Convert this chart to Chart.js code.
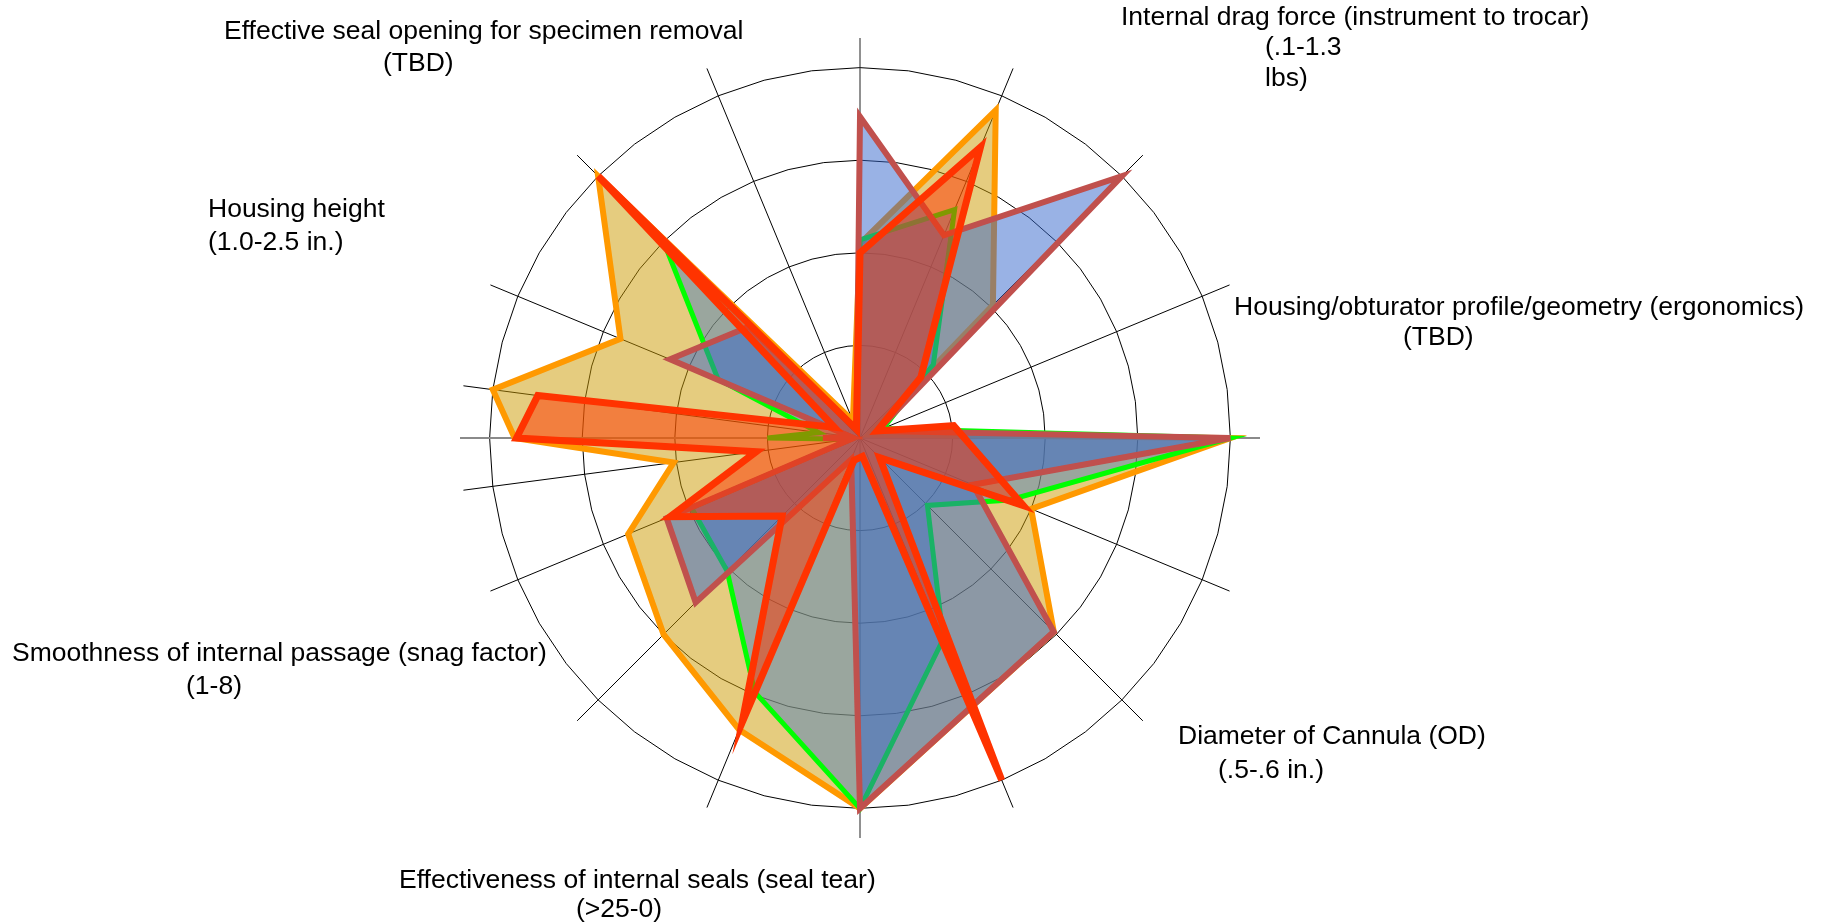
<!DOCTYPE html>
<html>
<head>
<meta charset="utf-8">
<title>Trocar design criteria</title>
<script src="https://cdn.jsdelivr.net/npm/chart.js@4.4.1/dist/chart.umd.min.js"></script>
<style>
  html, body { margin: 0; padding: 0; background: #fff; }
  #wrap { position: relative; width: 1823px; height: 923px; }
  .lbl {
    position: absolute;
    font-family: "Liberation Sans", Arial, sans-serif;
    font-size: 26.5px;
    line-height: 32px;
    color: #000;
    white-space: nowrap;
  }
</style>
</head>
<body>
<div id="wrap"><canvas id="radar"></canvas></div>
<script>
"use strict";

// 48 axes, one every 7.5 degrees; only some of them get a visible spoke
const AXIS_COUNT = 48;
const drawnSpokes = [0, 3, 6, 9, 12, 15, 18, 21, 24, 27, 30, 33, 35, 36, 37, 39, 42, 45];

const _ = null;

// scores per axis (null = no vertex on that axis)
const trocarOrange = [
  2.1, _, _, 3.83, _, _, 2.03, _, _, 0.1, _, _,
  4.0, _, _, 2.0, _, _, 2.96, _, _, _, _, _,
  4.0, _, _, 3.41, _, _, 3.0, _, _, 2.71, _, 2.03,
  3.73, 4.0, _, 2.8, _, _, 4.0, _, _, 0.2, _, _
];
const trocarGreen = [
  2.14, _, _, 2.67, _, _, 1.12, _, _, 0.27, _, _,
  4.0, _, _, 1.75, _, _, 1.03, _, _, 2.35, _, _,
  4.0, _, _, 2.97, _, _, 2.03, _, _, 1.97, _, 0.1,
  1.0, 0.45, _, 1.66, _, _, 3.0, _, _, 0.1, _, _
];
const trocarBlue = [
  3.47, _, _, 2.37, _, _, 4.0, _, _, 0.2, _, _,
  4.0, _, _, 1.32, _, _, 2.96, _, _, _, _, _,
  4.0, _, _, 0.25, _, _, 2.51, _, _, 2.26, _, 0.1,
  0.4, 0.1, _, 2.22, _, _, 1.7, _, _, 0.1, _, _
];
const trocarRed = [
  2.0, _, _, 3.4, _, _, 0.93, _, _, 0.2, _, 1.02,
  _, _, _, 1.91, _, _, 0.3, _, _, 4.0, _, 0.2,
  _, _, 0.25, 3.33, _, _, 1.19, _, _, 2.22, _, 1.13,
  3.71, 3.51, _, 0.3, _, _, 4.0, _, _, 0.1, _, _
];

const criteria = [
  ["Internal drag force (instrument to trocar)", "(.1-1.3", "lbs)"],
  ["Housing/obturator profile/geometry (ergonomics)", "(TBD)"],
  ["Diameter of Cannula (OD)", "(.5-.6 in.)"],
  ["Effectiveness of internal seals (seal tear)", "(>25-0)"],
  ["Smoothness of internal passage (snag factor)", "(1-8)"],
  ["Housing height", "(1.0-2.5 in.)"],
  ["Effective seal opening for specimen removal", "(TBD)"]
];

// left/top of every text line, same shape as criteria
const criteriaPos = [
  [[1121, 0], [1265, 30], [1265, 61]],
  [[1234, 290], [1403, 320]],
  [[1178, 719], [1218, 753]],
  [[399, 863], [576, 892]],
  [[12, 636], [186, 669]],
  [[208, 192], [208, 225]],
  [[224, 14], [383, 46]]
];

const axisLabels = Array.from({ length: AXIS_COUNT }, () => "");

function spokeWidth(i) {
  if (!drawnSpokes.includes(i)) return 0;
  if (i === 12 || i === 36) return 2;
  return 1;
}
function spokeColor(i) {
  if (i === 12 || i === 36) return "#8a8a8a";
  if (i === 0 || i === 24) return "#222";
  return "#000";
}

new Chart(document.getElementById("radar"), {
  type: "radar",
  data: {
    labels: axisLabels,
    datasets: [
      {
        label: "Red",
        data: trocarRed,
        borderColor: "#ff3300",
        backgroundColor: "rgba(255,51,0,0.5)",
        borderWidth: 7
      },
      {
        label: "Blue",
        data: trocarBlue,
        borderColor: "#c0504d",
        backgroundColor: "rgba(51,102,204,0.5)",
        borderWidth: 6
      },
      {
        label: "Green",
        data: trocarGreen,
        borderColor: "#00ff00",
        backgroundColor: "rgba(79,129,189,0.5)",
        borderWidth: 5
      },
      {
        label: "Orange",
        data: trocarOrange,
        borderColor: "#ff9900",
        backgroundColor: "rgba(204,153,0,0.5)",
        borderWidth: 6
      }
    ]
  },
  options: {
    responsive: true,
    maintainAspectRatio: false,
    animation: false,
    spanGaps: true,
    layout: { padding: { left: 460, right: 563, top: 38, bottom: 85 } },
    elements: {
      line: { tension: 0, fill: true },
      point: { radius: 0, hoverRadius: 0 }
    },
    plugins: {
      legend: { display: false },
      tooltip: { enabled: false }
    },
    scales: {
      r: {
        min: 0,
        max: 4.32,
        ticks: { display: false, stepSize: 1, includeBounds: false },
        grid: { circular: false, color: "#000", lineWidth: 1 },
        angleLines: {
          color: (ctx) => spokeColor(ctx.index),
          lineWidth: (ctx) => spokeWidth(ctx.index)
        },
        pointLabels: { display: false }
      }
    }
  }
});

// criterion captions around the chart
const wrap = document.getElementById("wrap");
criteria.forEach((lines, c) => {
  lines.forEach((text, k) => {
    const div = document.createElement("div");
    div.className = "lbl";
    div.textContent = text;
    div.style.left = criteriaPos[c][k][0] + "px";
    div.style.top = criteriaPos[c][k][1] + "px";
    wrap.appendChild(div);
  });
});
</script>
</body>
</html>
